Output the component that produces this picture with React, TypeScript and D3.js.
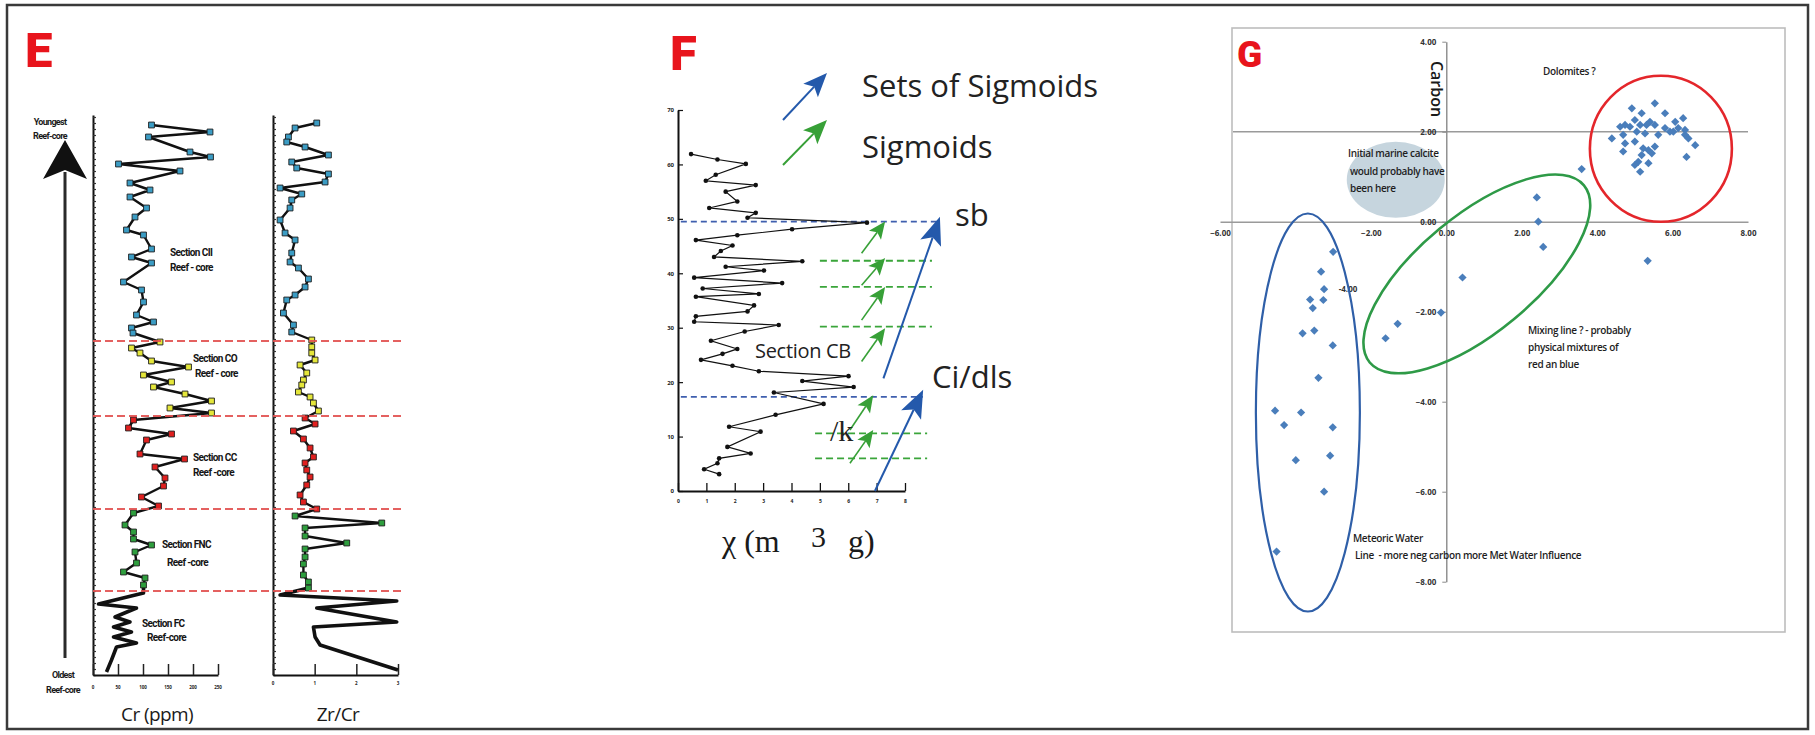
import React, { useEffect, useRef } from 'react';
import * as d3 from 'd3';

// ---- panel E : Cr (ppm) and Zr/Cr down the reef core, [height, value], top first ----
const crSectionCII = [[55.0,117],[54.3,234],[53.8,111],[52.3,194],[51.8,235],[51.1,51],[50.4,174],[49.2,74],[48.5,114],[47.8,74],[46.7,107],[45.8,84],[44.5,67],[44.0,101],[42.6,117],[41.8,77],[41.2,117],[39.3,61],[38.5,97],[37.3,101],[36.0,87],[35.3,121],[34.7,77],[34.2,80]];
const crSectionCO = [[33.3,134],[32.7,77],[32.2,94],[31.4,117],[30.8,191],[30.0,101],[29.3,157],[28.8,121],[28.1,184],[27.4,237],[26.7,154],[26.2,237]];
const crSectionCC = [[25.5,81],[24.7,71],[24.1,157],[23.5,107],[22.1,94],[21.6,183],[20.8,124],[19.7,144],[18.9,141],[17.8,97],[16.9,131]];
const crSectionFNC = [[16.2,81],[15.0,64],[14.3,81],[13.6,81],[13.0,117],[12.3,84],[11.2,87],[10.3,61],[9.7,104],[9.0,101]];
const crSectionFC = [[8.2,101],[7.1,11],[6.7,87],[5.8,44],[5.3,74],[4.8,41],[4.3,77],[3.8,41],[3.2,87],[2.8,47],[1.5,37],[0.3,27]];

const zrSectionCII = [[55.2,1.05],[54.7,0.53],[53.8,0.37],[53.3,0.33],[52.8,0.77],[52.0,1.33],[51.3,0.45],[50.7,0.57],[50.1,1.33],[49.3,1.25],[48.7,0.17],[48.1,0.69],[47.5,0.45],[46.7,0.41],[45.5,0.17],[44.2,0.29],[43.5,0.53],[42.2,0.45],[41.3,0.41],[40.7,0.61],[39.6,0.85],[38.8,0.77],[38.0,0.53],[37.5,0.33],[36.2,0.25],[35.0,0.49],[34.3,0.45]];
const zrSectionCO = [[33.5,0.93],[32.8,0.93],[32.2,0.93],[31.5,1.01],[31.0,0.65],[30.2,0.81],[29.5,0.73],[29.0,0.69],[28.3,0.61],[27.8,0.89],[27.2,0.97],[26.4,1.09]];
const zrSectionCC = [[25.7,0.77],[25.1,1.01],[24.4,0.49],[23.6,0.73],[22.7,0.89],[21.8,0.97],[21.2,0.77],[20.5,0.81],[19.8,0.89],[19.0,0.81],[18.0,0.65],[17.3,0.73],[16.6,1.05]];
const zrSectionFNC = [[15.9,0.53],[15.2,2.61],[14.7,0.77],[13.9,0.77],[13.2,1.77],[12.6,0.77],[11.8,0.77],[11.1,0.73],[10.0,0.73],[9.3,0.85],[8.7,0.85]];
const zrSectionFC = [[8.0,0.17],[7.4,2.97],[6.7,1.05],[5.3,2.97],[4.8,0.97],[3.8,1.01],[3.0,1.13],[0.5,3.0]];

const sectionBreaks = [33.4, 25.9, 16.6, 8.4];
const crTicks = [0, 50, 100, 150, 200, 250];
const zrTicks = [0, 1, 2, 3];

// ---- panel F : susceptibility, [height, chi] ----
const chiSectionCB = [[61.9,0.46],[60.9,1.39],[60.1,2.39],[58.1,1.33],[57.0,0.98],[56.2,2.74],[55.0,1.68],[53.2,2.09],[52.0,1.10],[51.1,2.74],[50.2,2.45],[49.3,6.66],[48.1,4.02],[47.0,2.09],[46.1,0.63],[45.1,1.92],[44.1,1.51],[43.0,1.27],[42.2,4.38],[41.2,1.68],[40.5,3.03],[39.2,0.57],[38.2,3.67],[37.2,0.87],[36.2,2.85],[35.7,0.63],[34.1,2.68],[33.0,2.45],[32.1,0.63],[31.1,0.57],[30.5,3.55],[29.3,2.35],[27.6,1.16],[26.1,2.09],[25.2,1.57],[24.1,0.81],[23.0,1.92],[22.0,2.85],[21.1,6.01],[20.2,4.38],[19.1,6.19],[18.1,3.38],[16.0,5.13],[14.0,3.44],[11.8,1.80],[10.9,2.91],[8.1,1.74],[6.9,2.56],[6.0,1.45],[5.1,1.39],[4.0,0.92],[3.1,1.45]];
const chiTicksY = [0, 10, 20, 30, 40, 50, 60, 70];
const chiTicksX = [0, 1, 2, 3, 4, 5, 6, 7, 8];
// sequence boundaries (blue) and sigmoid boundaries (green): [height, chi from, chi to]
const sequenceBounds = [[49.5, 0.1, 9.13], [17.3, 0.1, 8.63]];
const sigmoidBounds = [[42.3, 5.0, 8.95], [37.5, 5.0, 8.95], [30.2, 5.0, 8.95], [10.6, 4.83, 8.78], [6.0, 4.83, 8.78]];
// arrows: [chi tail, height tail, chi tip, height tip]
const sigmoidArrows = [[6.47,43.7,7.30,49.5],[6.47,37.8,7.30,42.8],[6.47,31.4,7.30,37.5],[6.47,23.8,7.30,29.9],[6.06,11.2,6.88,17.6],[6.06,5.1,6.88,11.2]];
const sigmoidSetArrows = [[7.24,20.7,9.23,50.4],[6.94,0,8.64,18.6]];

// ---- panel G : oxygen (x) vs carbon (y) ----
const dolomites = [[5.53,2.63],[4.92,2.52],[5.18,2.41],[5.00,2.26],[5.40,2.22],[5.80,2.41],[6.07,2.22],[6.28,2.30],[4.74,2.15],[4.61,2.11],[4.87,2.11],[5.14,2.15],[5.31,2.15],[5.53,2.15],[5.80,2.08],[6.02,2.00],[6.15,2.08],[6.33,2.04],[4.39,1.85],[4.69,1.93],[5.05,2.00],[5.27,1.96],[5.62,1.93],[5.93,2.00],[6.33,1.93],[4.74,1.74],[5.00,1.78],[5.22,1.63],[5.36,1.59],[5.53,1.67],[6.42,1.85],[6.60,1.70],[4.69,1.56],[5.18,1.48],[5.45,1.52],[5.09,1.33],[5.36,1.30],[6.37,1.44],[5.14,1.11],[5.00,1.26]];
const mixingLine = [[3.59,1.17],[2.40,0.54],[2.44,0.00],[2.57,-0.56],[5.34,-0.87],[0.43,-1.24],[-0.14,-2.02],[-1.29,-2.27],[-1.61,-2.59]];
const meteoricWater = [[-3.00,-0.67],[-3.32,-1.11],[-3.24,-1.50],[-3.61,-1.73],[-3.26,-1.74],[-3.54,-1.92],[-3.81,-2.48],[-3.50,-2.42],[-3.01,-2.75],[-3.39,-3.47],[-4.54,-4.20],[-3.85,-4.24],[-4.30,-4.52],[-3.01,-4.57],[-3.99,-5.30],[-3.08,-5.20],[-3.24,-6.00],[-4.50,-7.33]];
const oxygenTicks = [-6, -2, 0, 2, 4, 6, 8];
const carbonTicks = [-8, -6, -4, -2, 0, 2, 4];

const SANS = '"Open Sans", sans-serif';

function App() {
  const svgRef = useRef(null);

  useEffect(() => {
    const svg = d3.select(svgRef.current);
    svg.selectAll('*').remove();

    const text = (g, x, y, str, size, opts: any = {}) => {
      const t = g.append('text')
        .attr('x', x).attr('y', y)
        .attr('font-size', size)
        .attr('font-family', opts.family || SANS)
        .attr('font-weight', opts.weight || 400)
        .attr('fill', opts.fill || '#1a1a1a')
        .attr('text-anchor', opts.anchor || 'start')
        .style('white-space', 'pre')
        .text(str);
      if (opts.spacing) t.attr('letter-spacing', opts.spacing);
      if (opts.transform) t.attr('transform', opts.transform);
      return t;
    };

    const arrow = (g, x1, y1, x2, y2, color, width, headLen, headW) => {
      const a = Math.atan2(y2 - y1, x2 - x1);
      const c = Math.cos(a), s = Math.sin(a);
      const bx = x2 - headLen * c, by = y2 - headLen * s;
      const nx = x2 - headLen * 0.78 * c, ny = y2 - headLen * 0.78 * s;
      g.append('line').attr('x1', x1).attr('y1', y1).attr('x2', nx).attr('y2', ny)
        .attr('stroke', color).attr('stroke-width', width);
      g.append('polygon')
        .attr('points', [[x2, y2], [bx - s * headW, by + c * headW], [nx, ny], [bx + s * headW, by - c * headW]].map(p => p.join(',')).join(' '))
        .attr('fill', color);
    };

    // whole figure frame
    svg.append('rect').attr('x', 7).attr('y', 5).attr('width', 1801).attr('height', 724)
      .attr('fill', 'white').attr('stroke', '#3a3a3a').attr('stroke-width', 2.5);

    // panel letters
    const letter = { family: 'Roboto, sans-serif', weight: 900, fill: '#e8141c' };
    text(svg, 25, 67, 'E', 49, letter);
    text(svg, 670, 70, 'F', 49, letter);
    text(svg, 1237, 67, 'G', 37, letter);

    // ================= panel E =================
    const gE = svg.append('g');
    const yE = d3.scaleLinear().domain([0, 56]).range([675, 115]);
    const xCr = d3.scaleLinear().domain([0, 250]).range([93, 218]);
    const xZr = d3.scaleLinear().domain([0, 3]).range([273, 398]);
    const minor = d3.range(0, 55.9, 0.6);

    // core-age arrow
    gE.append('line').attr('x1', 65).attr('x2', 65).attr('y1', 172).attr('y2', 658)
      .attr('stroke', '#2a2a2a').attr('stroke-width', 3);
    gE.append('polygon').attr('points', '65,140 43,179 65,170 87,179').attr('fill', '#111');
    const tiny = { family: 'Roboto, sans-serif', weight: 700, anchor: 'middle', spacing: -0.7 };
    text(gE, 50, 125, 'Youngest', 9, tiny);
    text(gE, 50, 139, 'Reef-core', 9, tiny);
    text(gE, 63, 678, 'Oldest', 9, tiny);
    text(gE, 63, 693, 'Reef-core', 9, tiny);

    const drawProfile = (xScale, sections, ticks, tickLabelY, title, titleX) => {
      const g = gE.append('g');
      const x0 = xScale.range()[0];
      g.append('g').attr('transform', `translate(${x0},0)`)
        .call(d3.axisRight(yE).tickValues(minor).tickSize(3).tickFormat(() => '').tickSizeOuter(0))
        .call(a => a.select('.domain').attr('stroke', '#111').attr('stroke-width', 2))
        .call(a => a.selectAll('.tick line').attr('stroke', '#333').attr('stroke-width', 1.2));
      g.append('g').attr('transform', `translate(0,${yE(0)})`)
        .call(d3.axisTop(xScale).tickValues(ticks).tickSize(11).tickFormat(() => '').tickSizeOuter(0))
        .call(a => a.select('.domain').attr('stroke', '#111').attr('stroke-width', 2))
        .call(a => a.selectAll('.tick line').attr('stroke', '#222').attr('stroke-width', 1.5));
      ticks.forEach(t => text(g, xScale(t), tickLabelY, String(t), 4.5, { anchor: 'middle', weight: 700 }));
      text(g, titleX, 721, title, 19, { anchor: 'middle', spacing: -0.6 });

      const line = d3.line().x(d => xScale(d[1])).y(d => yE(d[0]));
      const colored = sections.slice(0, 4);
      const all = colored.flatMap(s => s.data);
      g.append('path').attr('d', line(all)).attr('fill', 'none')
        .attr('stroke', '#111').attr('stroke-width', 2.4).attr('stroke-linejoin', 'round');
      const last = all[all.length - 1];
      g.append('path').attr('d', line([last, ...sections[4].data])).attr('fill', 'none')
        .attr('stroke', '#111').attr('stroke-width', 3.6).attr('stroke-linejoin', 'round');
      const sq = d3.symbol().type(d3.symbolSquare).size(34);
      colored.forEach(s => {
        g.selectAll(null).data(s.data).enter().append('path')
          .attr('d', sq)
          .attr('transform', d => `translate(${xScale(d[1])},${yE(d[0])})`)
          .attr('fill', s.color).attr('stroke', '#1c1c1c').attr('stroke-width', 0.9);
      });
    };

    const sectionColors = ['#3b9cc4', '#e4e63a', '#e0201f', '#2e9e3e', '#111'];
    drawProfile(xCr, [crSectionCII, crSectionCO, crSectionCC, crSectionFNC, crSectionFC].map((d, i) => ({ data: d, color: sectionColors[i] })), crTicks, 689, 'Cr (ppm)', 157);
    drawProfile(xZr, [zrSectionCII, zrSectionCO, zrSectionCC, zrSectionFNC, zrSectionFC].map((d, i) => ({ data: d, color: sectionColors[i] })), zrTicks, 685, 'Zr/Cr', 338);

    sectionBreaks.forEach(h => {
      gE.append('line').attr('x1', 93).attr('x2', 401).attr('y1', yE(h)).attr('y2', yE(h))
        .attr('stroke', '#e2504f').attr('stroke-width', 2).attr('stroke-dasharray', '8 4').attr('opacity', 0.9);
    });

    const sec = { family: 'Roboto, sans-serif', weight: 700, spacing: -0.6, fill: '#151515' };
    text(gE, 170, 256, 'Section CII', 10, sec);
    text(gE, 170, 271, 'Reef - core', 10, sec);
    text(gE, 193, 362, 'Section CO', 10, sec);
    text(gE, 195, 377, 'Reef - core', 10, sec);
    text(gE, 193, 461, 'Section CC', 10, sec);
    text(gE, 193, 476, 'Reef -core', 10, sec);
    text(gE, 162, 548, 'Section FNC', 10, sec);
    text(gE, 167, 566, 'Reef -core', 10, sec);
    text(gE, 142, 627, 'Section FC', 10, sec);
    text(gE, 147, 641, 'Reef-core', 10, sec);

    // ================= panel F =================
    const gF = svg.append('g');
    const yF = d3.scaleLinear().domain([0, 70]).range([491, 110]);
    const xF = d3.scaleLinear().domain([0, 8]).range([678, 905]);

    gF.append('g').attr('transform', `translate(${xF(0)},0)`)
      .call(d3.axisLeft(yF).tickValues(chiTicksY).tickSize(-5).tickPadding(4).tickSizeOuter(0))
      .call(a => a.select('.domain').attr('stroke', '#111').attr('stroke-width', 2))
      .call(a => a.selectAll('.tick line').attr('stroke', '#111').attr('stroke-width', 1.2))
      .call(a => a.selectAll('.tick text').attr('font-size', 6).attr('font-weight', 700).attr('font-family', SANS).attr('fill', '#222'));
    gF.append('g').attr('transform', `translate(0,${yF(0)})`)
      .call(d3.axisBottom(xF).tickValues(chiTicksX).tickSize(-8).tickPadding(8).tickFormat(d => String(d)).tickSizeOuter(0))
      .call(a => a.select('.domain').attr('stroke', '#111').attr('stroke-width', 2))
      .call(a => a.selectAll('.tick line').attr('stroke', '#111').attr('stroke-width', 1.3))
      .call(a => a.selectAll('.tick text').attr('font-size', 5).attr('font-weight', 700).attr('font-family', SANS).attr('fill', '#222'));

    sequenceBounds.forEach(([h, a, b]) => {
      gF.append('line').attr('x1', xF(a)).attr('x2', xF(b)).attr('y1', yF(h)).attr('y2', yF(h))
        .attr('stroke', '#3f5fae').attr('stroke-width', 1.8).attr('stroke-dasharray', '6 4');
    });
    sigmoidBounds.forEach(([h, a, b]) => {
      gF.append('line').attr('x1', xF(a)).attr('x2', xF(b)).attr('y1', yF(h)).attr('y2', yF(h))
        .attr('stroke', '#3aa53a').attr('stroke-width', 1.8).attr('stroke-dasharray', '7 4');
    });

    const chiLine = d3.line().x(d => xF(d[1])).y(d => yF(d[0]));
    gF.append('path').attr('d', chiLine(chiSectionCB)).attr('fill', 'none')
      .attr('stroke', '#111').attr('stroke-width', 1.2);
    gF.selectAll(null).data(chiSectionCB).enter().append('circle')
      .attr('cx', d => xF(d[1])).attr('cy', d => yF(d[0])).attr('r', 2.3).attr('fill', '#111');

    sigmoidArrows.forEach(([a, b, c, d]) => arrow(gF, xF(a), yF(b), xF(c), yF(d), '#37a037', 1.6, 17, 7.5));
    sigmoidSetArrows.forEach(([a, b, c, d]) => arrow(gF, xF(a), yF(b), xF(c), yF(d), '#2459ab', 2, 28, 11));

    // legend
    arrow(gF, 783, 120, 827, 73, '#2459ab', 2, 24, 10);
    arrow(gF, 783, 165, 827, 120, '#37a037', 2, 24, 10);
    text(gF, 862, 97, 'Sets of Sigmoids', 31, { fill: '#222' });
    text(gF, 862, 158, 'Sigmoids', 31, { fill: '#222' });
    text(gF, 955, 226, 'sb', 31, { fill: '#222' });
    text(gF, 932, 388, 'Ci/dls', 31, { fill: '#222' });
    text(gF, 755, 358, 'Section CB', 20, { fill: '#222', spacing: -0.3 });
    text(gF, 830, 441, '/k', 30, { family: '"Liberation Serif", "Times New Roman", serif', fill: '#222' });
    const serif = { family: '"Liberation Serif", "Times New Roman", serif', fill: '#1a1a1a' };
    text(gF, 722, 552, 'χ (m', 32, serif);
    text(gF, 811, 547, '3', 30, serif);
    text(gF, 848, 552, 'g)', 32, serif);

    // ================= panel G =================
    const gG = svg.append('g');
    const xG = d3.scaleLinear().domain([-6, 8]).range([1220, 1748]);
    const yG = d3.scaleLinear().domain([-8, 4]).range([581.7, 41.7]);

    gG.append('rect').attr('x', 1232).attr('y', 28).attr('width', 553).attr('height', 604)
      .attr('fill', 'none').attr('stroke', '#bdbdbd').attr('stroke-width', 1.6);

    // reference line at +2 and the oxygen axis at 0
    gG.append('line').attr('x1', 1233).attr('x2', xG(8)).attr('y1', yG(2)).attr('y2', yG(2))
      .attr('stroke', '#9a9a9a').attr('stroke-width', 1.6);
    gG.append('g').attr('transform', `translate(0,${yG(0)})`)
      .call(d3.axisBottom(xG).tickValues(oxygenTicks).tickSize(0).tickPadding(9).tickFormat(d3.format('.2f')))
      .call(a => a.select('.domain').attr('stroke', '#9a9a9a').attr('stroke-width', 1.6))
      .call(a => a.selectAll('.tick text').attr('font-size', 8).attr('font-weight', 700).attr('font-family', SANS).attr('fill', '#333'));
    gG.append('g').attr('transform', `translate(${xG(0)},0)`)
      .call(d3.axisLeft(yG).tickValues(carbonTicks).tickSize(4).tickPadding(6).tickFormat(d3.format('.2f')).tickSizeOuter(0))
      .call(a => a.select('.domain').attr('stroke', '#8a8a8a').attr('stroke-width', 1.4))
      .call(a => a.selectAll('.tick line').attr('stroke', '#8a8a8a'))
      .call(a => a.selectAll('.tick text').attr('font-size', 8).attr('font-weight', 700).attr('font-family', SANS).attr('fill', '#333'));
    text(gG, 1348, 292, '-4.00', 8, { weight: 700, anchor: 'middle', fill: '#333' });
    text(gG, 1431, 89, 'Carbon', 16, { weight: 600, anchor: 'middle', transform: 'rotate(90,1431,89)' });

    // interpretation ellipses
    gG.append('ellipse').attr('cx', xG(-1.34)).attr('cy', yG(0.93)).attr('rx', 49).attr('ry', 38).attr('fill', '#c6d5de');
    gG.append('ellipse').attr('cx', xG(5.69)).attr('cy', yG(1.62)).attr('rx', 71).attr('ry', 73)
      .attr('fill', 'none').attr('stroke', '#e4262b').attr('stroke-width', 2.6);
    gG.append('ellipse').attr('cx', 0).attr('cy', 0).attr('rx', 139).attr('ry', 58.5)
      .attr('transform', `translate(${xG(0.81)},${yG(-1.16)}) rotate(-39.6)`)
      .attr('fill', 'none').attr('stroke', '#2e9a47').attr('stroke-width', 2.6);
    gG.append('ellipse').attr('cx', xG(-3.67)).attr('cy', yG(-4.24)).attr('rx', 52).attr('ry', 199)
      .attr('fill', 'none').attr('stroke', '#2f5fa8').attr('stroke-width', 2.2);

    const diamond = d3.symbol().type(d3.symbolSquare).size(34);
    [...dolomites, ...mixingLine, ...meteoricWater].forEach(d => {
      gG.append('path').attr('d', diamond)
        .attr('transform', `translate(${xG(d[0])},${yG(d[1])}) rotate(45)`)
        .attr('fill', '#4a7ebb');
    });

    const note = { weight: 600, spacing: -0.35, fill: '#1e1e1e' };
    text(gG, 1543, 75, 'Dolomites ?', 10, note);
    text(gG, 1348, 157, 'Initial marine calcite', 10, note);
    text(gG, 1350, 175, 'would probably have', 10, note);
    text(gG, 1350, 192, 'been here', 10, note);
    text(gG, 1528, 334, 'Mixing line ? - probably', 10, note);
    text(gG, 1528, 351, 'physical mixtures of', 10, note);
    text(gG, 1528, 368, 'red an blue', 10, note);
    text(gG, 1353, 542, 'Meteoric Water', 10, note);
    text(gG, 1355, 559, 'Line  - more neg carbon more Met Water Influence', 10, note);
  }, []);

  return (
    <svg ref={svgRef} width={1815} height={735}
      style={{ position: 'absolute', left: 0, top: 0, background: 'white' }} />
  );
}

export default App;
